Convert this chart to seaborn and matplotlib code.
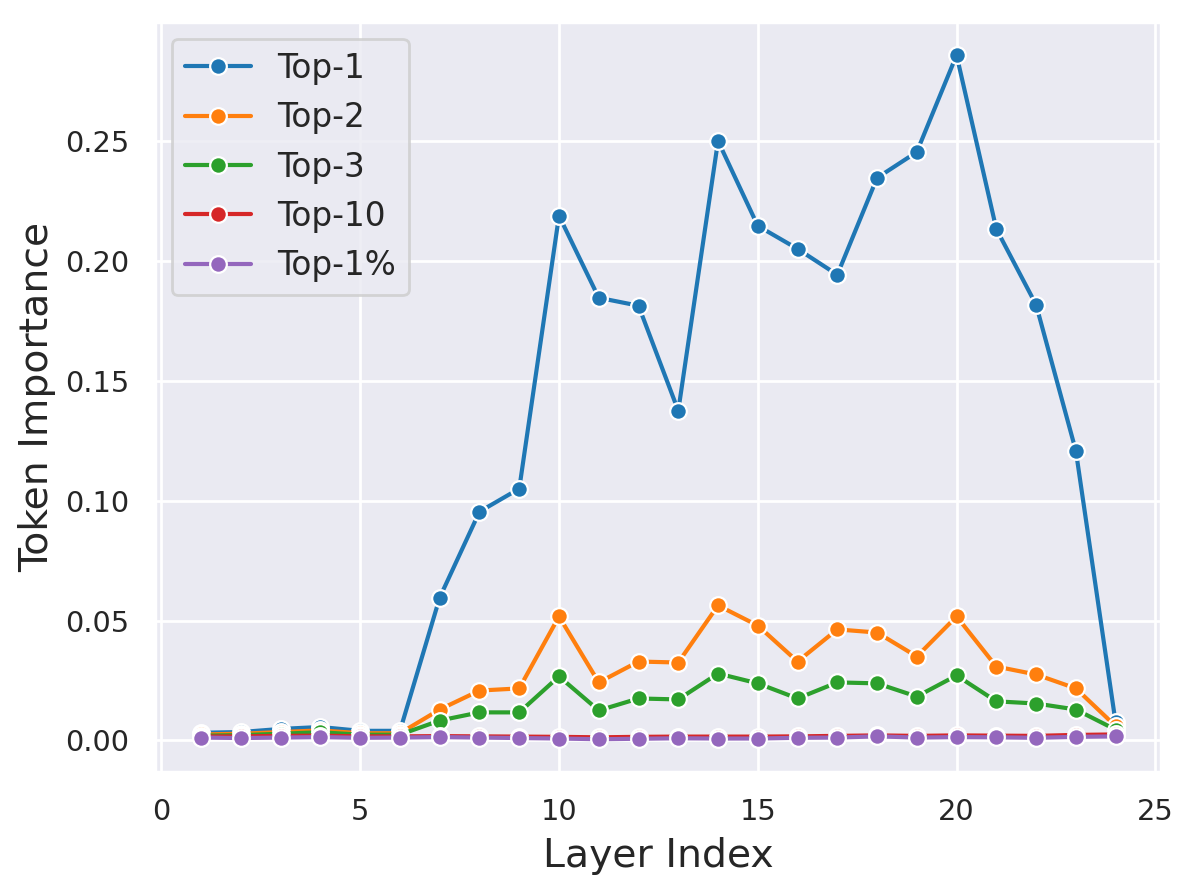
import numpy as np
import pandas as pd
import matplotlib
matplotlib.use("Agg")
import matplotlib.pyplot as plt
import seaborn as sns

LAYERS = list(range(1, 25))

TOP_1 = [0.0032, 0.0035, 0.0048, 0.0056, 0.0040, 0.0040, 0.0596, 0.0954,
         0.1050, 0.2188, 0.1846, 0.1813, 0.1375, 0.2500, 0.2146, 0.2050,
         0.1942, 0.2346, 0.2454, 0.2858, 0.2133, 0.1817, 0.1208, 0.0075]
TOP_2 = [0.0025, 0.0028, 0.0035, 0.0042, 0.0030, 0.0030, 0.0129, 0.0208,
         0.0217, 0.0517, 0.0242, 0.0329, 0.0325, 0.0563, 0.0479, 0.0329,
         0.0463, 0.0450, 0.0350, 0.0517, 0.0308, 0.0275, 0.0217, 0.0060]
TOP_3 = [0.0020, 0.0022, 0.0028, 0.0034, 0.0024, 0.0024, 0.0083, 0.0117,
         0.0117, 0.0267, 0.0125, 0.0175, 0.0171, 0.0279, 0.0238, 0.0175,
         0.0242, 0.0238, 0.0183, 0.0271, 0.0163, 0.0154, 0.0129, 0.0045]
TOP_10 = [0.0016, 0.0017, 0.0019, 0.0020, 0.0017, 0.0017, 0.0018, 0.0017,
          0.0016, 0.0015, 0.0013, 0.0015, 0.0016, 0.0016, 0.0016, 0.0017,
          0.0019, 0.0021, 0.0019, 0.0021, 0.0020, 0.0019, 0.0023, 0.0025]
TOP_1PCT = [0.0012, 0.0010, 0.0012, 0.0014, 0.0011, 0.0012, 0.0014, 0.0012,
            0.0010, 0.0008, 0.0005, 0.0007, 0.0009, 0.0008, 0.0008, 0.0011,
            0.0012, 0.0017, 0.0012, 0.0014, 0.0013, 0.0011, 0.0015, 0.0017]

SERIES = ["Top-1", "Top-2", "Top-3", "Top-10", "Top-1%"]
VALUES = [TOP_1, TOP_2, TOP_3, TOP_10, TOP_1PCT]

df = pd.concat(
    [pd.DataFrame({"layer": LAYERS, "importance": v, "k": name})
     for name, v in zip(SERIES, VALUES)],
    ignore_index=True,
)

sns.set_theme(style="darkgrid")
plt.rcParams["font.family"] = ["DejaVu Sans"]

fig, ax = plt.subplots(figsize=(5.98, 4.455), dpi=200)
fig.subplots_adjust(left=0.130, right=0.971, top=0.975, bottom=0.134)

sns.lineplot(
    data=df, x="layer", y="importance", hue="k", hue_order=SERIES,
    palette="tab10", marker="o", markersize=6, markeredgecolor="white",
    markeredgewidth=0.8, linewidth=1.5, ax=ax,
)

ax.set_ylim(-0.013, 0.2995)
ax.set_xlabel("Layer Index", fontsize=14.2)
ax.set_ylabel("Token Importance", fontsize=14.2, labelpad=3)
ax.tick_params(labelsize=10.4)
ax.set_xticks([0, 5, 10, 15, 20, 25])

ax.legend(loc="upper left", fontsize=11.8, title=None)

fig.savefig("out.png", dpi=200)
